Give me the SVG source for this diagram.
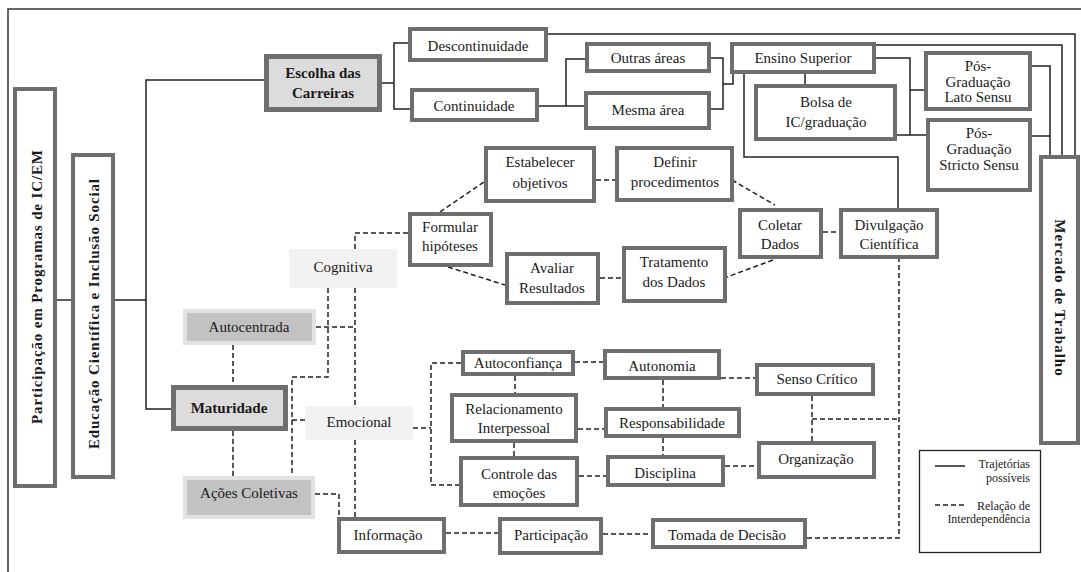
<svg xmlns="http://www.w3.org/2000/svg" width="1081" height="572" viewBox="0 0 1081 572">
<style>
text{font-family:"Liberation Serif","Times New Roman",serif;font-size:15px;fill:#1a1a1a;text-anchor:middle}
.b{font-weight:bold}
.box rect{fill:#fff;stroke:#6e6e6e;stroke-width:4}
.hl rect{fill:#dcdcdc;stroke:#6e6e6e;stroke-width:5}
.gr rect{fill:#c2c2c2;stroke:#e2e2e2;stroke-width:4}
.lt rect{fill:#f2f2f2}
.solid{fill:none;stroke:#222;stroke-width:1.5}
.dash{fill:none;stroke:#222;stroke-width:1.5;stroke-dasharray:5 3}
.leg text{font-size:12px;text-anchor:end}
</style>
<rect width="1081" height="572" fill="#fff"/>
<path d="M8,572 V9 H1081" fill="none" stroke="#333" stroke-width="1.5"/>

<g id="connectors">
<path class="solid" d="M57,300 H71"/>
<path class="solid" d="M115,300 H146 V80 H264"/>
<path class="solid" d="M146,300 V409 H171"/>
<path class="solid" d="M382,83 H394 M408,43 H394 V109 H410"/>
<path class="solid" d="M548,34 H1075 V155"/>
<path class="solid" d="M539,106 H584 M566,106 V59 H585"/>
<path class="solid" d="M711,58 H723 V109 H711 M723,84 H733 V74"/>
<path class="solid" d="M805,74 V84"/>
<path class="solid" d="M876,58 H910 V135 M910,90 H924 M897,135 H926"/>
<path class="solid" d="M876,45 H1062 V155"/>
<path class="solid" d="M1032,66 H1050 V155 M1032,136 H1050"/>
<path class="solid" d="M744,74 V157 H898 V208"/>

<path class="dash" d="M596,180 H615"/>
<path class="dash" d="M440,212 L484,182"/>
<path class="dash" d="M448,267 L505,285"/>
<path class="dash" d="M600,278 H622"/>
<path class="dash" d="M732,180 L775,205"/>
<path class="dash" d="M773,260 L727,277"/>
<path class="dash" d="M823,232 H839"/>
<path class="dash" d="M355,249 V233 H408"/>
<path class="dash" d="M328,288 V377 H292 V476 M292,420 H305"/>
<path class="dash" d="M355,288 V406"/>
<path class="dash" d="M316,327 H355"/>
<path class="dash" d="M233,345 V385"/>
<path class="dash" d="M233,431 V476"/>
<path class="dash" d="M315,494 H339 V517"/>
<path class="dash" d="M355,440 V517"/>
<path class="dash" d="M413,428 H431 M461,363 H431 V485 H459"/>
<path class="dash" d="M575,362 H603"/>
<path class="dash" d="M721,378 H755"/>
<path class="dash" d="M515,376 V393"/>
<path class="dash" d="M578,429 H604"/>
<path class="dash" d="M663,380 V407"/>
<path class="dash" d="M663,438 V455"/>
<path class="dash" d="M514,443 V456"/>
<path class="dash" d="M579,476 H606"/>
<path class="dash" d="M725,466 H757"/>
<path class="dash" d="M446,533 H498"/>
<path class="dash" d="M603,534 H651"/>
<path class="dash" d="M807,538 H899 V259"/>
<path class="dash" d="M812,396 V441 M812,419 H899"/>
</g>

<g id="participacao" class="box"><rect x="15" y="89" width="40" height="397"/><text class="b" font-size="16" transform="translate(42,287) rotate(-90)" textLength="274" lengthAdjust="spacing">Participação em Programas de IC/EM</text></g>
<g id="educacao" class="box"><rect x="73" y="155" width="40" height="322"/><text class="b" font-size="16" transform="translate(99,314) rotate(-90)" textLength="270" lengthAdjust="spacing">Educação Científica e Inclusão Social</text></g>
<g id="escolha" class="hl"><rect x="266.5" y="56.5" width="113" height="53"/><text class="b" x="323" y="78">Escolha das</text><text class="b" x="323" y="98">Carreiras</text></g>
<g id="descontinuidade" class="box"><rect x="410" y="29" width="136" height="31"/><text x="478" y="51">Descontinuidade</text></g>
<g id="continuidade" class="box"><rect x="412" y="90" width="125" height="30"/><text x="474" y="111">Continuidade</text></g>
<g id="outras" class="box"><rect x="587" y="44" width="122" height="27"/><text x="648" y="63">Outras áreas</text></g>
<g id="mesma" class="box"><rect x="586" y="93" width="123" height="35"/><text x="648" y="115">Mesma área</text></g>
<g id="ensino" class="box"><rect x="732" y="44" width="142" height="28"/><text x="803" y="63">Ensino Superior</text></g>
<g id="bolsa" class="box"><rect x="756" y="86" width="139" height="53"/><text x="826" y="107">Bolsa de</text><text x="826" y="127">IC/graduação</text></g>
<g id="lato" class="box"><rect x="926" y="53" width="104" height="56"/><text x="978" y="71">Pós-</text><text x="978" y="87">Graduação</text><text x="978" y="102">Lato Sensu</text></g>
<g id="stricto" class="box"><rect x="928" y="120" width="102" height="70"/><text x="979" y="138">Pós-</text><text x="979" y="154">Graduação</text><text x="979" y="170">Stricto Sensu</text></g>
<g id="mercado" class="box"><rect x="1041" y="157" width="37" height="286"/><text class="b" transform="translate(1055,298) rotate(90)" letter-spacing="1">Mercado de Trabalho</text></g>

<g id="estabelecer" class="box"><rect x="486" y="148" width="108" height="53"/><text x="540" y="167">Estabelecer</text><text x="540" y="188">objetivos</text></g>
<g id="definir" class="box"><rect x="617" y="148" width="115" height="52"/><text x="675" y="167">Definir</text><text x="675" y="187">procedimentos</text></g>
<g id="formular" class="box"><rect x="410" y="214" width="81" height="51"/><text x="450" y="232">Formular</text><text x="450" y="251">hipóteses</text></g>
<g id="avaliar" class="box"><rect x="507" y="254" width="91" height="49"/><text x="552" y="273">Avaliar</text><text x="552" y="293">Resultados</text></g>
<g id="tratamento" class="box"><rect x="624" y="248" width="101" height="53"/><text x="674" y="267">Tratamento</text><text x="674" y="287">dos Dados</text></g>
<g id="coletar" class="box"><rect x="740" y="210" width="81" height="47"/><text x="780" y="230">Coletar</text><text x="780" y="249">Dados</text></g>
<g id="divulgacao" class="box"><rect x="841" y="210" width="96" height="47"/><text x="889" y="230">Divulgação</text><text x="889" y="249">Científica</text></g>

<g id="cognitiva" class="lt"><rect x="289" y="249" width="108" height="39" rx="2"/><text x="343" y="272">Cognitiva</text></g>
<g id="autocentrada" class="gr"><rect x="185" y="311" width="129" height="32"/><text x="249" y="332">Autocentrada</text></g>
<g id="maturidade" class="hl"><rect x="173.5" y="387.5" width="112" height="41"/><text class="b" x="229" y="413">Maturidade</text></g>
<g id="acoes" class="gr"><rect x="185" y="478" width="128" height="39"/><text x="249" y="498">Ações Coletivas</text></g>
<g id="emocional" class="lt"><rect x="305" y="406" width="108" height="34" rx="2"/><text x="359" y="427">Emocional</text></g>

<g id="autoconfianca" class="box"><rect x="463" y="352" width="110" height="22"/><text x="518" y="368">Autoconfiança</text></g>
<g id="autonomia" class="box"><rect x="605" y="351" width="114" height="27"/><text x="662" y="371">Autonomia</text></g>
<g id="senso" class="box"><rect x="757" y="365" width="116" height="29"/><text x="817" y="384">Senso Crítico</text></g>
<g id="relacionamento" class="box"><rect x="452" y="395" width="124" height="46"/><text x="514" y="414">Relacionamento</text><text x="514" y="433">Interpessoal</text></g>
<g id="responsabilidade" class="box"><rect x="606" y="409" width="133" height="27"/><text x="672" y="428">Responsabilidade</text></g>
<g id="controle" class="box"><rect x="461" y="458" width="116" height="47"/><text x="519" y="479">Controle das</text><text x="519" y="498">emoções</text></g>
<g id="disciplina" class="box"><rect x="608" y="457" width="115" height="28"/><text x="665" y="478">Disciplina</text></g>
<g id="organizacao" class="box"><rect x="759" y="443" width="115" height="34"/><text x="816" y="464">Organização</text></g>
<g id="informacao" class="box"><rect x="339" y="519" width="105" height="33"/><text x="388" y="540">Informação</text></g>
<g id="participacao2" class="box"><rect x="500" y="519" width="101" height="34"/><text x="551" y="540">Participação</text></g>
<g id="tomada" class="box"><rect x="653" y="520" width="152" height="27"/><text x="727" y="540">Tomada de Decisão</text></g>

<g id="legend" class="leg">
<rect x="919.5" y="450.5" width="121" height="102" fill="#fff" stroke="#222" stroke-width="1.3"/>
<path class="solid" d="M935,466 H965"/>
<path class="dash" d="M935,505 H966"/>
<text x="1030" y="468">Trajetórias</text>
<text x="1030" y="482">possíveis</text>
<text x="1030" y="510">Relação de</text>
<text x="1030" y="523">Interdependência</text>
</g>
</svg>
